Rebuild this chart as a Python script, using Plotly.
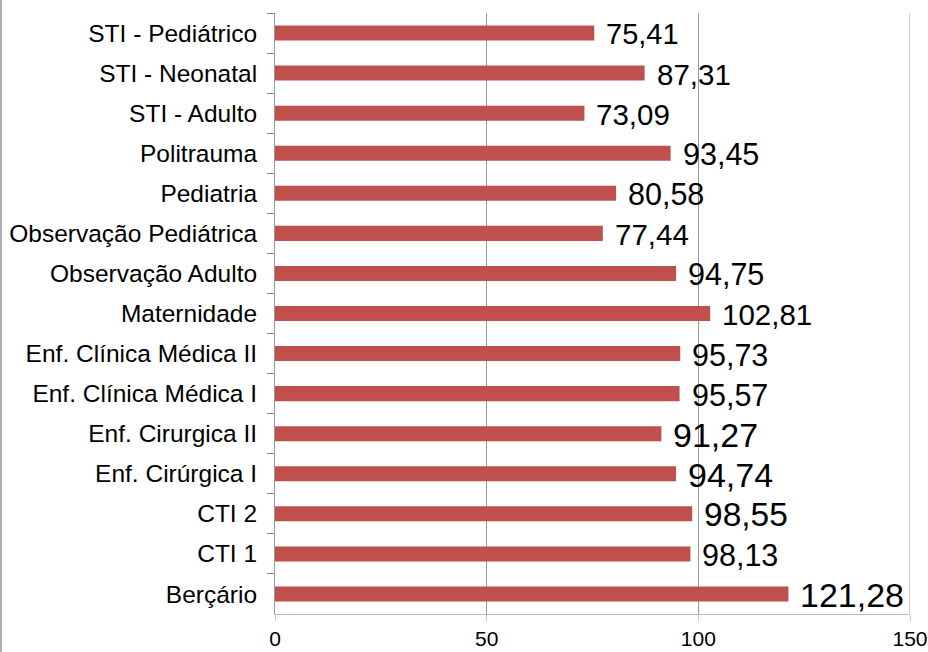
import plotly.graph_objects as go

categories = ["STI - Pediátrico", "STI - Neonatal", "STI - Adulto", "Politrauma", "Pediatria",
              "Observação Pediátrica", "Observação Adulto", "Maternidade", "Enf. Clínica Médica II",
              "Enf. Clínica Médica I", "Enf. Cirurgica II", "Enf. Cirúrgica I", "CTI 2", "CTI 1", "Berçário"]
values = [75.41, 87.31, 73.09, 93.45, 80.58, 77.44, 94.75, 102.81, 95.73, 95.57, 91.27, 94.74, 98.55, 98.13, 121.28]
value_labels = ["75,41", "87,31", "73,09", "93,45", "80,58", "77,44", "94,75", "102,81", "95,73",
                "95,57", "91,27", "94,74", "98,55", "98,13", "121,28"]
label_sizes = [29, 29.5, 29.5, 30.5, 30.5, 29.5, 30.5, 29.5, 30.5, 30.5, 34, 34, 33.5, 30.5, 34]
x_ticks = [0, 50, 100, 150]

FONT = "Liberation Sans, Arial, sans-serif"

fig = go.Figure()
fig.add_trace(go.Bar(
    x=values, y=categories, orientation="h",
    marker=dict(color="#C0504D", line=dict(width=0)),
    hoverinfo="skip",
))

for c, v, t, s in zip(categories, values, value_labels, label_sizes):
    fig.add_annotation(x=v, y=c, text=t, showarrow=False, xanchor="left", yanchor="middle",
                       xshift=10, yshift=-1, font=dict(family=FONT, size=s, color="#000000"))

# right-edge gridline at the axis maximum
fig.add_shape(type="line", xref="x", yref="paper", x0=x_ticks[-1], x1=x_ticks[-1], y0=0, y1=1,
              line=dict(color="#9a9a9a", width=1), layer="below")

fig.add_shape(type="line", xref="paper", yref="paper", x0=-274/635, x1=-274/635, y0=-38/600, y1=1+13/600,
              line=dict(color="#b0b0b0", width=2))

fig.update_layout(
    width=928, height=652,
    margin=dict(l=275, r=18, t=13, b=38, autoexpand=False),
    paper_bgcolor="white", plot_bgcolor="white",
    bargap=0.625,
    showlegend=False,
    font=dict(family=FONT, color="#000000"),
    xaxis=dict(range=[0, 150], tickvals=x_ticks, ticktext=[str(v) for v in x_ticks],
               showgrid=True, gridcolor="#9a9a9a", gridwidth=1,
               showline=True, linecolor="#bdbdbd", linewidth=1,
               ticks="outside", ticklen=6, tickcolor="#c8c8c8",
               ticklabelstandoff=0, ticklabeloverflow="allow",
               tickfont=dict(size=21, family=FONT), zeroline=False, fixedrange=True),
    yaxis=dict(autorange="reversed", type="category",
               showline=True, linecolor="#9a9a9a", linewidth=1,
               ticks="outside", ticklen=7, tickcolor="#888888", tickwidth=1, tickson="boundaries",
               ticklabelstandoff=12,
               tickfont=dict(size=24.5, family=FONT), showgrid=False, fixedrange=True),
)

fig.write_html("out.html", config={"displayModeBar": False},
               post_script="document.body.style.margin='0';document.body.style.overflow='hidden';")
